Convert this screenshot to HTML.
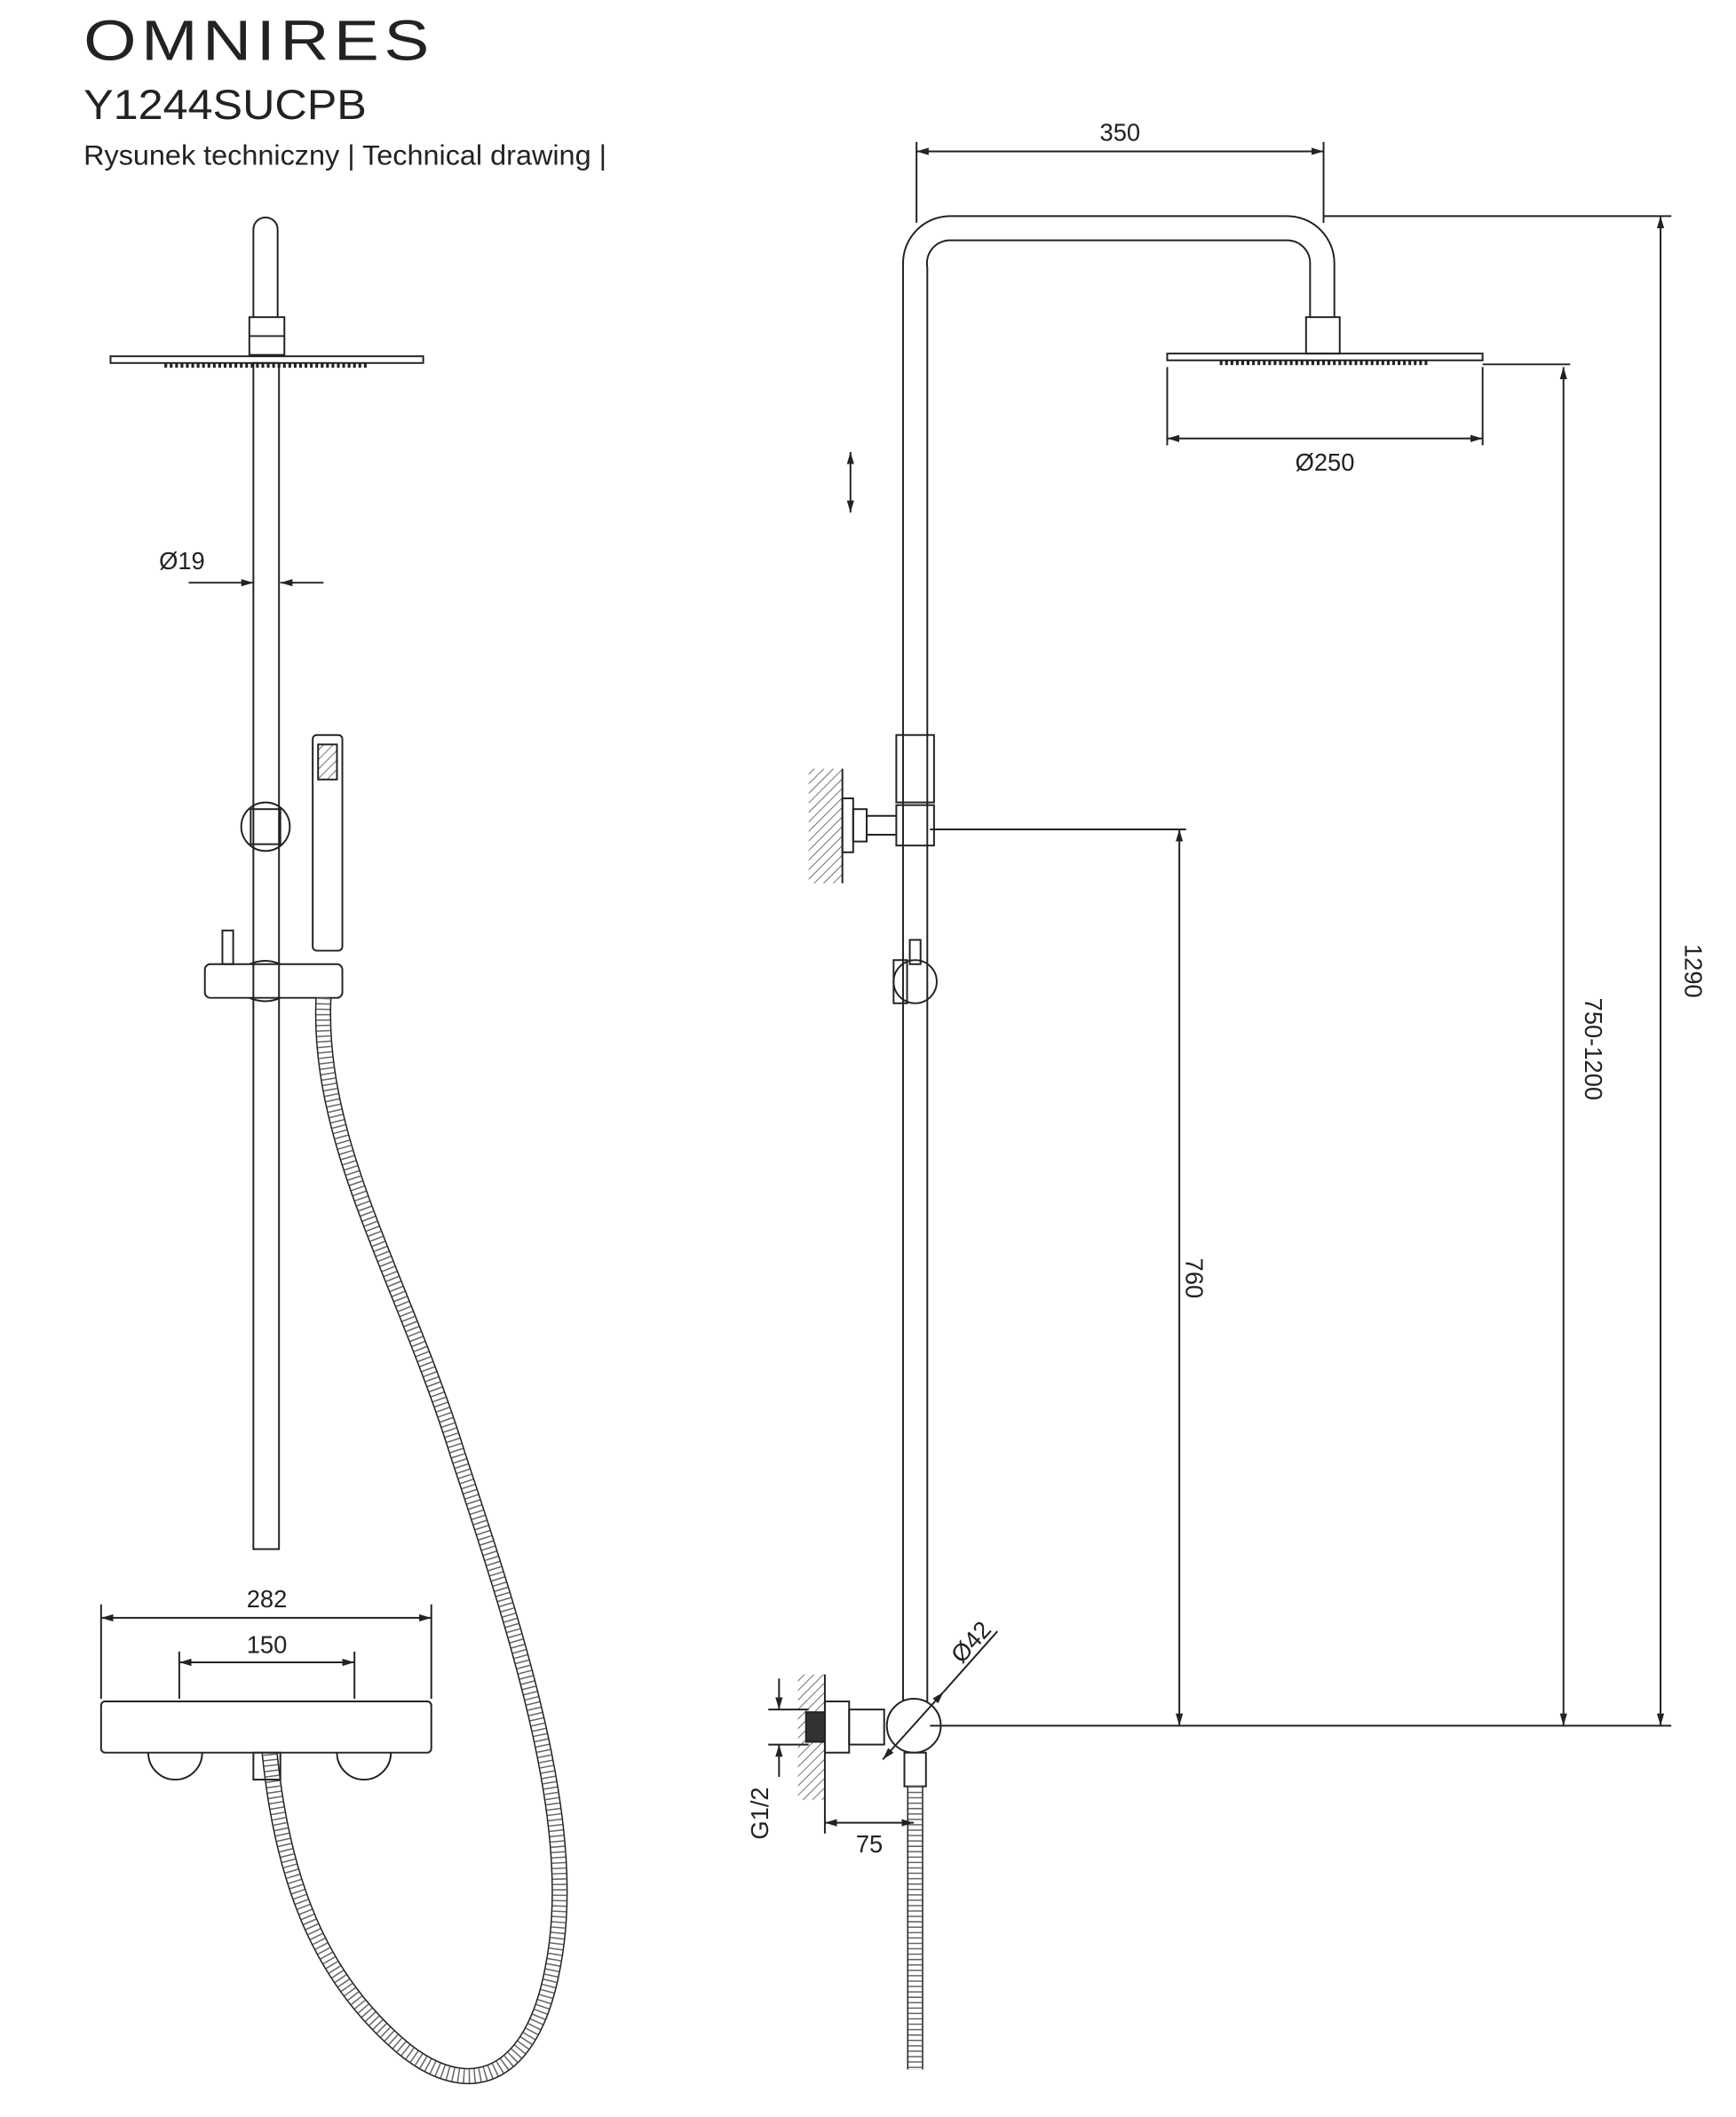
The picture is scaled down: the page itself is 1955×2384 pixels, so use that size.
<!DOCTYPE html>
<html><head><meta charset="utf-8"><style>
html,body{margin:0;padding:0;background:#fff;}
svg{display:block;}
text{font-family:"Liberation Sans",sans-serif;fill:#222;}
</style></head><body>
<svg width="1955" height="2384" viewBox="0 0 1288 1570" xmlns="http://www.w3.org/2000/svg">
<defs>
<marker id="a" viewBox="0 0 10 10" refX="10" refY="5" markerWidth="9" markerHeight="9" orient="auto-start-reverse" markerUnits="userSpaceOnUse"><path d="M0,2 L10,5 L0,8 z" fill="#222"/></marker>
<pattern id="h" width="5" height="5" patternUnits="userSpaceOnUse" patternTransform="rotate(45)"><line x1="0" y1="0" x2="0" y2="5" stroke="#444" stroke-width="1"/></pattern>
</defs>
<text x="62" y="44" font-size="42" letter-spacing="3" textLength="260" lengthAdjust="spacingAndGlyphs">OMNIRES</text>
<text x="62" y="88" font-size="31" textLength="210" lengthAdjust="spacingAndGlyphs">Y1244SUCPB</text>
<text x="62" y="122" font-size="21" textLength="388" lengthAdjust="spacingAndGlyphs">Rysunek techniczny | Technical drawing |</text>

<g fill="none" stroke="#222" stroke-width="1.3">
<!-- LEFT VIEW -->
<path d="M188,235 V170 A9,9 0 0 1 206,170 V235"/>
<rect x="185" y="235" width="26" height="28"/>
<line x1="185" y1="249" x2="211" y2="249"/>
<rect x="82" y="264" width="232" height="5"/>
<line x1="122" y1="271" x2="272" y2="271" stroke-dasharray="2,2" stroke-width="3"/>
<rect x="188" y="269" width="19" height="880"/>
<line x1="140" y1="432" x2="188" y2="432" marker-end="url(#a)"/>
<line x1="240" y1="432" x2="208" y2="432" marker-end="url(#a)"/>
<!-- hand shower -->
<rect x="232" y="545" width="22" height="160" rx="3"/>
<rect x="236" y="552" width="14" height="26" fill="url(#h)"/>
<circle cx="197" cy="613" r="18"/>
<rect x="186" y="600" width="22" height="26"/>
<rect x="152" y="715" width="102" height="25" rx="4"/>
<rect x="165" y="690" width="8" height="25"/>
<path d="M185,715 Q197,710 208,715 M185,740 Q197,745 208,740"/>
<!-- hose -->
<path d="M240,740 C235,850 300,950 340,1080 C390,1230 430,1360 410,1460 C395,1540 350,1560 300,1520 C240,1470 210,1400 200,1300" stroke-width="12" stroke="#222"/>
<path d="M240,740 C235,850 300,950 340,1080 C390,1230 430,1360 410,1460 C395,1540 350,1560 300,1520 C240,1470 210,1400 200,1300" stroke-width="10" stroke="#fff"/>
<path d="M240,740 C235,850 300,950 340,1080 C390,1230 430,1360 410,1460 C395,1540 350,1560 300,1520 C240,1470 210,1400 200,1300" stroke-width="10" stroke="#666" stroke-dasharray="1,3"/>
<!-- thermostat -->
<rect x="75" y="1262" width="245" height="38" rx="3"/>
<path d="M110,1300 A20,20 0 0 0 150,1300 M250,1300 A20,20 0 0 0 290,1300"/>
<rect x="188" y="1300" width="20" height="20"/>
<line x1="75" y1="1190" x2="75" y2="1260"/><line x1="320" y1="1190" x2="320" y2="1260"/>
<line x1="75" y1="1200" x2="320" y2="1200" marker-start="url(#a)" marker-end="url(#a)"/>
<line x1="133" y1="1225" x2="133" y2="1260"/><line x1="263" y1="1225" x2="263" y2="1260"/>
<line x1="133" y1="1233" x2="263" y2="1233" marker-start="url(#a)" marker-end="url(#a)"/>

<!-- RIGHT VIEW -->
<path d="M670,1262 V195 A35,35 0 0 1 705,160 H955 A35,35 0 0 1 990,195 V235"/>
<path d="M688,1262 V198 A17,17 0 0 1 705,178 H955 A17,17 0 0 1 972,195 V235"/>
<rect x="969" y="235" width="25" height="27"/>
<rect x="866" y="262" width="234" height="5"/>
<line x1="905" y1="269" x2="1060" y2="269" stroke-dasharray="2,2" stroke-width="3"/>
<line x1="680" y1="105" x2="680" y2="165"/><line x1="982" y1="105" x2="982" y2="165"/>
<line x1="680" y1="112" x2="982" y2="112" marker-start="url(#a)" marker-end="url(#a)"/>
<line x1="866" y1="272" x2="866" y2="330"/><line x1="1100" y1="272" x2="1100" y2="330"/>
<line x1="866" y1="325" x2="1100" y2="325" marker-start="url(#a)" marker-end="url(#a)"/>
<line x1="631" y1="335" x2="631" y2="380" marker-start="url(#a)" marker-end="url(#a)"/>
<line x1="982" y1="160" x2="1240" y2="160"/>
<line x1="1100" y1="270" x2="1165" y2="270"/>
<line x1="690" y1="615" x2="880" y2="615"/>
<line x1="690" y1="1280" x2="1240" y2="1280"/>
<line x1="1232" y1="160" x2="1232" y2="1280" marker-start="url(#a)" marker-end="url(#a)"/>
<line x1="1160" y1="272" x2="1160" y2="1280" marker-start="url(#a)" marker-end="url(#a)"/>
<line x1="875" y1="615" x2="875" y2="1280" marker-start="url(#a)" marker-end="url(#a)"/>
<!-- upper bracket -->
<rect x="665" y="545" width="28" height="50"/>
<rect x="600" y="570" width="25" height="85" fill="url(#h)" stroke="none"/>
<line x1="625" y1="570" x2="625" y2="655"/>
<rect x="625" y="592" width="8" height="40"/><rect x="633" y="600" width="10" height="24"/>
<line x1="643" y1="605" x2="665" y2="605"/><line x1="643" y1="619" x2="665" y2="619"/>
<rect x="665" y="597" width="28" height="30"/>
<rect x="675" y="697" width="8" height="18"/>
<circle cx="679" cy="728" r="16"/>
<rect x="663" y="712" width="10" height="32"/>
<!-- lower connection -->
<rect x="592" y="1242" width="20" height="93" fill="url(#h)" stroke="none"/>
<line x1="612" y1="1242" x2="612" y2="1335"/>
<rect x="598" y="1270" width="14" height="22" fill="#333"/>
<rect x="612" y="1262" width="18" height="38"/>
<rect x="630" y="1268" width="26" height="26"/>
<circle cx="678" cy="1280" r="20"/>
<rect x="671" y="1300" width="16" height="25"/>
<path d="M679,1325 V1535" stroke-width="12"/>
<path d="M679,1325 V1535" stroke-width="10" stroke="#fff"/>
<path d="M679,1325 V1535" stroke-width="10" stroke="#666" stroke-dasharray="1,3"/>
<line x1="655" y1="1305" x2="700" y2="1255" marker-start="url(#a)" marker-end="url(#a)"/>
<line x1="700" y1="1255" x2="740" y2="1210"/>
<line x1="570" y1="1268" x2="600" y2="1268"/><line x1="570" y1="1294" x2="600" y2="1294"/>
<line x1="578" y1="1245" x2="578" y2="1268" marker-end="url(#a)"/>
<line x1="578" y1="1318" x2="578" y2="1294" marker-end="url(#a)"/>
<line x1="612" y1="1335" x2="612" y2="1360"/>
<line x1="612" y1="1352" x2="678" y2="1352" marker-start="url(#a)" marker-end="url(#a)"/>
</g>
<g font-size="18">
<text x="198" y="1192" text-anchor="middle">282</text>
<text x="198" y="1226" text-anchor="middle">150</text>
<text x="135" y="422" text-anchor="middle">Ø19</text>
<text x="831" y="104" text-anchor="middle">350</text>
<text x="983" y="349" text-anchor="middle">Ø250</text>
<text x="645" y="1374" text-anchor="middle">75</text>
<text transform="translate(1250,720) rotate(90)" text-anchor="middle">1290</text>
<text transform="translate(1176,778) rotate(90)" text-anchor="middle">750-1200</text>
<text transform="translate(880,948) rotate(90)" text-anchor="middle">760</text>
<text transform="translate(725,1222) rotate(-48)" text-anchor="middle">Ø42</text>
<text transform="translate(570,1345) rotate(-90)" text-anchor="middle">G1/2</text>
</g>
</svg>
</body></html>
